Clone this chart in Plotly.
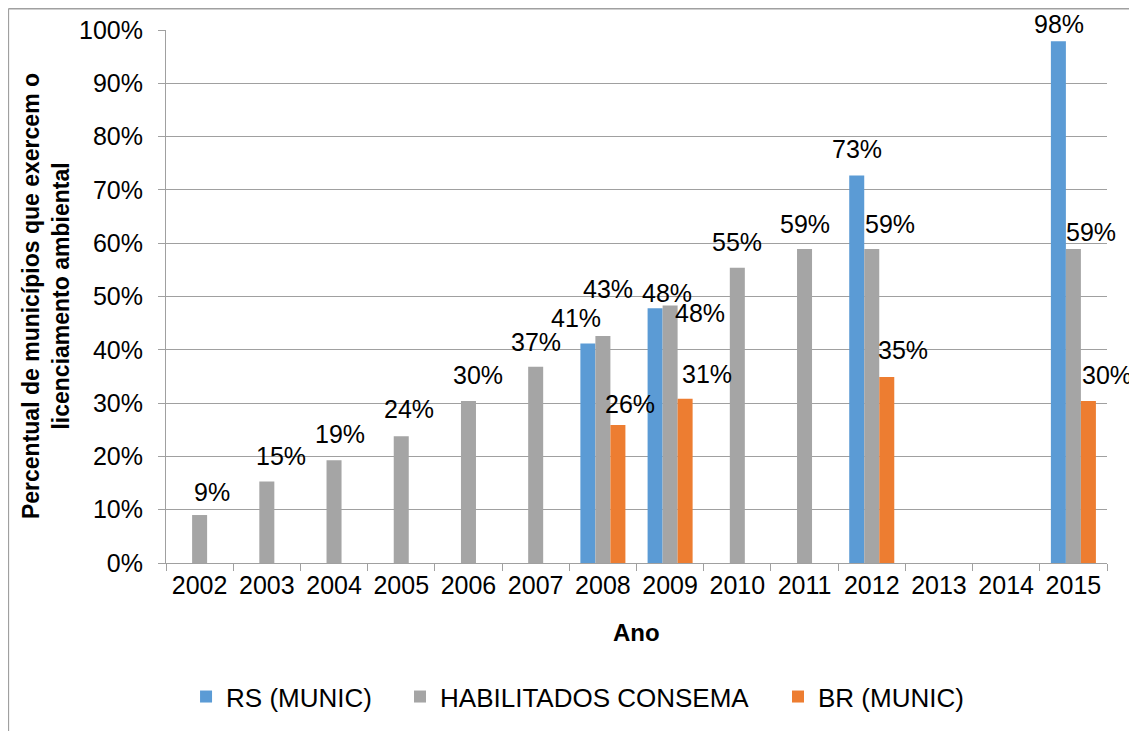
import plotly.graph_objects as go

years = ["2002", "2003", "2004", "2005", "2006", "2007", "2008",
         "2009", "2010", "2011", "2012", "2013", "2014", "2015"]

rs_munic = [None, None, None, None, None, None, 0.412,
            0.478, None, None, 0.727, None, None, 0.979]
habilitados = [0.090, 0.153, 0.193, 0.238, 0.304, 0.368, 0.426,
               0.483, 0.554, 0.589, 0.589, None, None, 0.589]
br_munic = [None, None, None, None, None, None, 0.259,
            0.308, None, None, 0.349, None, None, 0.304]

FONT = "Liberation Sans, Arial, sans-serif"
GRID = "#a0a0a0"

series = [
    ("RS (MUNIC)", rs_munic, "#5b9bd5"),
    ("HABILITADOS CONSEMA", habilitados, "#a5a5a5"),
    ("BR (MUNIC)", br_munic, "#ed7d31"),
]

# label nudges (px) relative to each bar top-centre, mimicking the hand-placed Excel labels
label_nudge = {
    "RS (MUNIC)": {"2008": (-12, 25), "2009": (12, 15), "2012": (0, 27), "2015": (0, 17)},
    "HABILITADOS CONSEMA": {
        "2002": (12, 23), "2003": (14, 25), "2004": (6, 26), "2005": (8, 27),
        "2006": (10, 26), "2007": (0, 25), "2008": (5, 47), "2009": (30, -7),
        "2010": (0, 26), "2011": (0, 25), "2012": (18, 25), "2015": (18, 17),
    },
    "BR (MUNIC)": {"2008": (12, 21), "2009": (22, 25), "2012": (17, 27), "2015": (19, 26)},
}
bar_step = 14.7
legend_x = [0.0213, 0.2487, 0.6504]

fig = go.Figure()
annotations = []
legends = {}
for k, (name, vals, color) in enumerate(series):
    lg = "legend" if k == 0 else f"legend{k + 1}"
    legends[lg] = dict(
        orientation="h", x=legend_x[k], xanchor="left", y=-0.2507, yanchor="middle",
        font=dict(family=FONT, size=26, color="#000000"), bgcolor="rgba(0,0,0,0)",
    )
    fig.add_trace(go.Bar(
        x=years, y=vals, name=name, legend=lg,
        marker=dict(color=color, line=dict(width=0)),
    ))
    for i, (yr, v) in enumerate(zip(years, vals)):
        if v is None:
            continue
        dx, dy = label_nudge[name].get(yr, (0, 25))
        # numeric strings would be read as indices on a category axis, so pass the index
        annotations.append(dict(
            x=i, y=v, xref="x", yref="y",
            text=f"{round(v * 100):.0f}%",
            showarrow=False,
            xshift=(k - 1) * bar_step + dx, yshift=dy,
            font=dict(family=FONT, size=25, color="#000000"),
        ))

annotations.append(dict(
    x=-0.128, y=0.5, xref="paper", yref="paper",
    text="<b>Percentual de municípios que exercem o<br>licenciamento ambiental</b>",
    textangle=-90, showarrow=False, xanchor="center", yanchor="middle",
    font=dict(family=FONT, size=23, color="#000000"),
))
annotations.append(dict(
    x=0.5, y=-0.131, xref="paper", yref="paper",
    text="<b>Ano</b>", showarrow=False, xanchor="center", yanchor="middle",
    font=dict(family=FONT, size=24, color="#000000"),
))

fig.update_layout(
    width=1129, height=723,
    barmode="group", bargap=0.33, bargroupgap=0,
    paper_bgcolor="white", plot_bgcolor="white",
    margin=dict(l=158, r=30, t=22, b=167.7, autoexpand=False),
    font=dict(family=FONT, size=25, color="#000000"),
    showlegend=True,
    xaxis=dict(
        type="category", range=[-0.5, len(years) - 0.5], showgrid=False,
        showline=True, linecolor=GRID, linewidth=1,
        ticks="outside", tickson="boundaries", ticklen=7, tickcolor=GRID,
        tickfont=dict(size=25), tickangle=0,
    ),
    yaxis=dict(
        range=[0, 1], dtick=0.1, tickformat=".0%",
        showgrid=True, gridcolor=GRID, gridwidth=1,
        showline=True, linecolor=GRID, linewidth=1,
        ticks="outside", ticklen=7, tickcolor=GRID,
        ticklabelstandoff=10, zeroline=False,
        tickfont=dict(size=25),
    ),
    annotations=annotations,
    shapes=[
        # outer chart frame (top and left edges are the only ones in view)
        dict(type="line", xref="paper", yref="paper", x0=-0.1675, x1=1.1, y0=1.0398, y1=1.0398,
             line=dict(color=GRID, width=1.5)),
        dict(type="line", xref="paper", yref="paper", x0=-0.1675, x1=-0.1675, y0=1.0398, y1=-0.4,
             line=dict(color=GRID, width=1.5)),
    ],
    **legends,
)

fig.write_html("out.html")
